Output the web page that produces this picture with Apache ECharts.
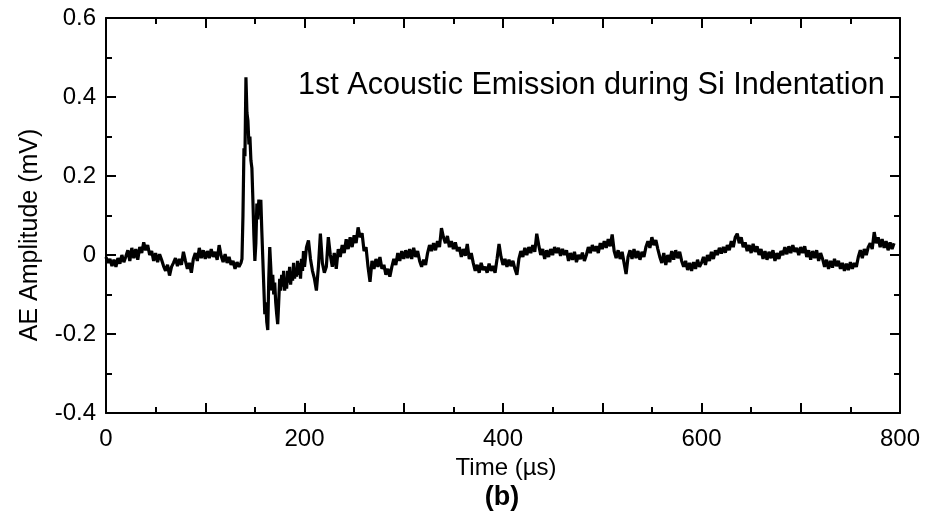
<!DOCTYPE html>
<html>
<head>
<meta charset="utf-8">
<script src="https://cdn.jsdelivr.net/npm/echarts@6/dist/echarts.min.js"></script>
<style>html,body{margin:0;padding:0;background:#fff}#c{width:936px;height:518px}</style>
</head>
<body>
<div id="c"></div>
<script>
// Pre-event baseline: t = 0..136 µs, step 2 µs
const preStart = 0, preStep = 2;
const preEvent = [
  -0.005, -0.02, -0.01, -0.028, -0.012, -0.03, -0.008, -0.022, 0.0, -0.018,
  -0.004, 0.012, -0.015, 0.018, -0.008, 0.015, -0.012, 0.02, 0.005, 0.032,
  0.012, 0.025, 0.0, 0.01, -0.015, 0.005, -0.018, 0.002, -0.012, -0.028,
  -0.04, -0.025, -0.052, -0.03, -0.02, -0.008, -0.028, -0.01, -0.025, 0.008,
  -0.015, -0.035, -0.02, -0.045, -0.01, 0.005, -0.015, 0.018, -0.008, 0.012,
  -0.01, 0.01, -0.008, 0.015, -0.005, 0.008, -0.012, 0.025, -0.002, -0.018,
  0.002, -0.02, -0.005, -0.025, -0.015, -0.035, -0.018, -0.03, -0.02
];
// Burst: t = 137..200 µs, step 1 µs
const burstStart = 137, burstStep = 1;
const burst = [
  -0.01, 0.10, 0.27, 0.25, 0.45, 0.36, 0.34, 0.28, 0.30, 0.24,
  0.22, 0.14, 0.05, -0.015, 0.03, 0.13, 0.09, 0.14, 0.12, 0.14,
  0.06, -0.01, -0.08, -0.15, -0.12, -0.17, -0.19, -0.06, 0.02, -0.03,
  -0.09, -0.05, -0.10, -0.07, -0.12, -0.15, -0.175, -0.12, -0.06, -0.09,
  -0.05, -0.08, -0.04, -0.09, -0.06, -0.085, -0.04, -0.07, -0.03, -0.075,
  -0.045, -0.065, -0.02, -0.06, -0.035, -0.055, -0.015, -0.05, -0.02, -0.06,
  -0.01, -0.04, 0.01, -0.03
];
// Post-event: t = 202..794 µs, step 2 µs
const postStart = 202, postStep = 2;
const postEvent = [
  0.02, 0.037, -0.01, -0.04, -0.06, -0.09, -0.03, 0.054, -0.02, -0.045,
  -0.03, 0.045, 0.0, -0.03, 0.005, -0.035, 0.015, -0.005, 0.025, 0.005,
  0.04, 0.015, 0.045, 0.02, 0.05, 0.03, 0.07, 0.045, 0.055, 0.01,
  0.02, -0.03, -0.068, -0.015, -0.035, -0.01, -0.03, -0.005, -0.035, -0.025,
  -0.05, -0.035, -0.055, -0.03, -0.01, -0.025, 0.005, -0.015, 0.01, -0.01,
  0.012, -0.008, 0.015, -0.01, 0.018, -0.005, 0.01, -0.015, -0.03, -0.012,
  -0.025, 0.005, 0.025, 0.01, 0.03, 0.012, 0.035, 0.02, 0.068, 0.045,
  0.03, 0.048, 0.02, 0.035, 0.015, 0.032, 0.01, 0.02, -0.005, 0.015,
  -0.002, 0.028, -0.01, 0.005, -0.02, -0.04, -0.025, -0.045, -0.02, -0.038,
  -0.03, -0.045, -0.022, -0.04, -0.028, -0.045, -0.01, 0.028, -0.005, -0.025,
  -0.01, -0.03, -0.012, -0.028, -0.015, -0.035, -0.05, -0.01, 0.01, -0.005,
  0.018, 0.0, 0.02, 0.005, 0.025, 0.008, 0.054, 0.025, 0.0, 0.015,
  -0.01, 0.012, -0.005, 0.015, 0.0, 0.02, 0.005, 0.018, -0.002, 0.015,
  0.0, 0.012, -0.015, 0.005, -0.012, 0.008, -0.018, 0.0, -0.01, 0.006,
  -0.015, 0.0, 0.02, 0.005, 0.025, 0.01, 0.022, 0.005, 0.03, 0.015,
  0.035, 0.018, 0.04, 0.022, 0.052, 0.01, -0.008, 0.012, -0.01, 0.008,
  -0.02, -0.048, -0.005, 0.012, -0.01, 0.015, -0.008, 0.01, -0.012, 0.008,
  -0.005, 0.02, 0.035, 0.018, 0.045, 0.025, 0.038, 0.015, -0.005, -0.02,
  0.005, -0.025, 0.0, -0.018, 0.01, -0.012, 0.012, -0.008, 0.008, -0.015,
  -0.03, -0.015, -0.038, -0.02, -0.04, -0.018, -0.035, -0.012, -0.03, -0.02,
  -0.005, -0.025, 0.0, -0.015, 0.008, -0.01, 0.012, 0.0, 0.018, 0.004,
  0.02, 0.006, 0.025, 0.012, 0.035, 0.02, 0.045, 0.054, 0.03, 0.045,
  0.02, 0.032, 0.01, 0.025, 0.005, 0.028, 0.008, 0.022, 0.0, 0.015,
  -0.01, 0.01, -0.012, 0.008, -0.008, 0.012, -0.015, 0.005, -0.01, 0.01,
  0.0, 0.02, 0.002, 0.022, 0.005, 0.025, 0.008, 0.018, 0.0, 0.02,
  0.005, 0.022, -0.005, 0.012, -0.012, 0.01, -0.008, 0.012, -0.015, 0.005,
  -0.01, -0.03, -0.012, -0.035, -0.015, -0.032, -0.01, -0.028, -0.015, -0.035,
  -0.02, -0.04, -0.022, -0.038, -0.018, -0.035, -0.02, -0.03, -0.005, 0.012,
  -0.008, 0.015, 0.0, 0.02, 0.03, 0.015, 0.058, 0.03, 0.045, 0.02,
  0.04, 0.018, 0.035, 0.012, 0.032, 0.015, 0.03
];
const xTickLabels = ['0', '200', '400', '600', '800'];
const yTickLabels = ['-0.4', '-0.2', '0', '0.2', '0.4', '0.6'];

const points = [];
preEvent.forEach((v, i) => points.push([preStart + i * preStep, v]));
burst.forEach((v, i) => points.push([burstStart + i * burstStep, v]));
postEvent.forEach((v, i) => points.push([postStart + i * postStep, v]));

const FONT = 'Liberation Sans, Arial, sans-serif';
const axisLine = { show: true, onZero: false, lineStyle: { color: '#000', width: 2 } };
const tickStyle = { show: true, inside: true, length: 10, lineStyle: { color: '#000', width: 2 } };
const minorStyle = { show: true, splitNumber: 2, length: 6, lineStyle: { color: '#000', width: 2 } };

const chart = echarts.init(document.getElementById('c'), null, { renderer: 'canvas' });
chart.setOption({
  animation: false,
  backgroundColor: '#fff',
  grid: { left: 106, right: 36, top: 18, bottom: 105, containLabel: false },
  xAxis: [
    {
      type: 'value', min: 0, max: 800, interval: 100, position: 'bottom',
      axisLine, axisTick: tickStyle, minorTick: minorStyle, splitLine: { show: false },
      axisLabel: {
        color: '#000', fontSize: 24, fontFamily: FONT, margin: 14,
        formatter: v => { const s = String(v); return xTickLabels.includes(s) ? s : ''; }
      }
    },
    {
      type: 'value', min: 0, max: 800, interval: 100, position: 'top',
      axisLine, axisTick: tickStyle, minorTick: minorStyle, splitLine: { show: false },
      axisLabel: { show: false }
    }
  ],
  yAxis: [
    {
      type: 'value', min: -0.4, max: 0.6, interval: 0.2, position: 'left',
      axisLine, axisTick: tickStyle, minorTick: minorStyle, splitLine: { show: false },
      axisLabel: {
        color: '#000', fontSize: 24, fontFamily: FONT, margin: 10,
        formatter: v => { const s = String(Math.round(v * 10) / 10); return yTickLabels.includes(s) ? s : ''; }
      }
    },
    {
      type: 'value', min: -0.4, max: 0.6, interval: 0.2, position: 'right',
      axisLine, axisTick: tickStyle, minorTick: minorStyle, splitLine: { show: false },
      axisLabel: { show: false }
    }
  ],
  series: [{
    type: 'line', data: points, xAxisIndex: 0, yAxisIndex: 0,
    showSymbol: false, symbol: 'none',
    lineStyle: { color: '#000', width: 3.2 }, z: 3
  }],
  graphic: [
    { type: 'text', x: 298, y: 86,
      style: { text: '1st Acoustic Emission during Si Indentation', font: '30.6px ' + FONT, fill: '#000', textVerticalAlign: 'middle' } },
    { type: 'text', x: 506, y: 468,
      style: { text: 'Time (µs)', font: '24px ' + FONT, fill: '#000', textAlign: 'center', textVerticalAlign: 'middle' } },
    { type: 'text', x: 502, y: 498,
      style: { text: '(b)', font: 'bold 27px ' + FONT, fill: '#000', textAlign: 'center', textVerticalAlign: 'middle' } },
    { type: 'text', x: 30, y: 235, rotation: Math.PI / 2,
      style: { text: 'AE Amplitude (mV)', font: '25px ' + FONT, fill: '#000', textAlign: 'center', textVerticalAlign: 'middle' } }
  ]
});
</script>
</body>
</html>
